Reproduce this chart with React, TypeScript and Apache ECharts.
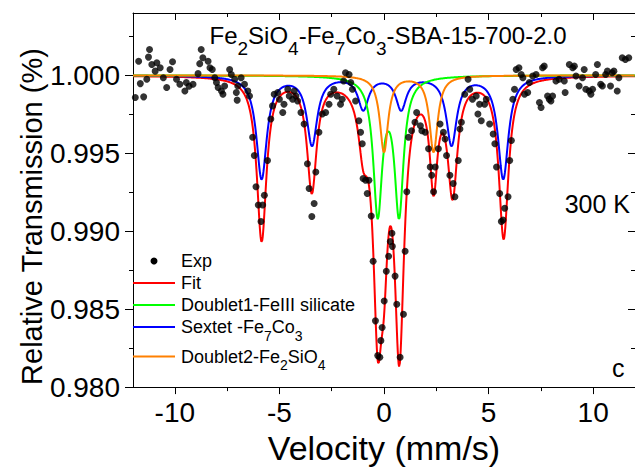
import React, { useEffect, useRef } from "react";
import * as echarts from "echarts";

const FONT = "'Liberation Sans', Arial, Helvetica, sans-serif";

// Axes
const xMin = -12;
const xMax = 12;
const yMin = 0.98;
const yMax = 1.004;
const xMajorTicks = [-10, -5, 0, 5, 10];
const xMinorTicks = [-7.5, -2.5, 2.5, 7.5];
const yMajorTicks = [0.98, 0.985, 0.99, 0.995, 1.0];
const yMinorTicks = [0.9825, 0.9875, 0.9925, 0.9975, 1.0025];

// Experimental points (velocity mm/s, relative transmission)
const expVelocity = [
  -11.89, -11.73, -11.65, -11.49, -11.34, -11.26, -11.21, -11.1, -10.94, -10.86,
  -10.7, -10.55, -10.39, -10.23, -10.11, -9.92, -9.76, -9.52, -9.45, -9.32,
  -9.13, -8.89, -8.81, -8.74, -8.66, -8.41, -8.32, -8.21, -8.09, -8.01,
  -7.93, -7.77, -7.7, -7.62, -7.38, -7.3, -7.14, -7.06, -7.02, -6.99,
  -6.83, -6.67, -6.51, -6.43, -6.28, -6.2, -6.12, -6.01, -5.88, -5.8,
  -5.72, -5.57, -5.41, -5.33, -5.25, -5.08, -5.0, -4.84, -4.78, -4.6,
  -4.53, -4.37, -4.29, -4.21, -4.13, -3.97, -3.82, -3.66, -3.58, -3.45,
  -3.34, -3.26, -3.11, -2.95, -2.79, -2.63, -2.55, -2.4, -2.24, -2.08,
  -2.0, -1.93, -1.84, -1.67, -1.59, -1.51, -1.36, -1.2, -1.12, -1.04,
  -1.0, -0.88, -0.72, -0.8, -0.61, -0.52, -0.41, -0.3, -0.2, -0.15,
  -0.09, 0.01, 0.11, 0.22, 0.3, 0.38, 0.4, 0.53, 0.61, 0.77,
  0.93, 1.01, 1.09, 1.17, 1.32, 1.48, 1.56, 1.74, 1.81, 1.97,
  2.13, 2.21, 2.28, 2.37, 2.45, 2.6, 2.68, 2.84, 2.92, 2.99,
  3.15, 3.31, 3.39, 3.55, 3.63, 3.7, 3.86, 4.02, 4.1, 4.23,
  4.41, 4.49, 4.57, 4.65, 4.81, 4.89, 5.05, 5.22, 5.3, 5.38,
  5.53, 5.61, 5.69, 5.77, 5.93, 6.01, 6.09, 6.16, 6.24, 6.32,
  6.45, 6.56, 6.64, 6.72, 6.87, 6.95, 7.11, 7.27, 7.43, 7.51,
  7.58, 7.66, 7.82, 7.9, 7.98, 8.06, 8.22, 8.37, 8.62, 8.66,
  8.86, 9.02, 9.1, 9.18, 9.33, 9.49, 9.57, 9.65, 9.81, 9.89,
  9.97, 10.12, 10.2, 10.36, 10.44, 10.6, 10.68, 10.83, 10.91, 10.99,
  11.15, 11.23, 11.39, 11.54, 11.7,
];
const expTransmission = [
  0.99858, 1.00091, 0.99947, 0.99862, 0.99975, 1.00117, 1.00166, 1.0007, 1.00027, 1.00081,
  1.00049, 0.99985, 0.99922, 1.00038, 1.00087, 0.99975, 0.99943, 0.999, 0.99954, 0.9993,
  0.99943, 1.00011, 1.00075, 1.00166, 1.00113, 1.00091, 1.00049, 1.00038, 0.99985, 0.99954,
  0.99922, 0.999, 0.99879, 0.99932, 1.00038, 1.00006, 0.99975, 0.9989, 0.99841, 0.99932,
  0.99985, 0.99943, 0.999, 0.99868, 0.99603, 0.99486, 0.99285, 0.99168, 0.99062, 0.99168,
  0.99231, 0.99454, 0.9972, 0.99804, 0.99879, 0.9989, 0.99847, 0.99762, 0.99815, 0.99911,
  0.99868, 0.99847, 0.999, 0.99868, 0.99836, 0.99762, 0.99688, 0.99433, 0.99274, 0.99094,
  0.99178, 0.9938, 0.99635, 0.99752, 0.99762, 0.99815, 0.99879, 0.99911, 0.99868, 0.99815,
  0.99847, 0.99964, 1.00017, 1.00006, 0.99954, 0.99911, 0.99836, 0.99709, 0.99635, 0.99561,
  0.99338, 0.99327, 0.99327, 0.99242, 0.99098, 0.98807, 0.98425, 0.98202, 0.98191, 0.98298,
  0.98382, 0.98552, 0.98743, 0.98839, 0.98934, 0.98987, 0.98903, 0.98712, 0.98531, 0.98191,
  0.98467, 0.98871, 0.99253, 0.99603, 0.99645, 0.99699, 0.99762, 0.99677, 0.99645, 0.99635,
  0.99529, 0.99412, 0.99359, 0.99253, 0.99412, 0.99529, 0.99688, 0.99635, 0.99592, 0.99486,
  0.99359, 0.99306, 0.99221, 0.99454, 0.99656, 0.99699, 0.99879, 0.99975, 0.99911, 0.99847,
  0.99868, 0.99752, 0.99815, 0.99709, 0.99815, 0.99847, 0.99688, 0.99624, 0.99561, 0.99412,
  0.99242, 0.99062, 0.99072, 0.99147, 0.99221, 0.99454, 0.99582, 0.99847, 0.99911, 1.00038,
  1.00049, 1.00006, 0.99985, 0.99879, 0.9989, 0.99954, 0.99996, 1.00006, 0.99826, 0.99794,
  1.00049, 1.00059, 0.99868, 0.99847, 0.99836, 0.99868, 0.99964, 0.99975, 0.99964, 0.9989,
  1.0007, 1.00049, 1.00059, 0.99996, 0.99932, 0.99985, 1.00038, 0.99911, 0.999, 0.99879,
  0.99911, 1.00006, 1.0007, 0.99943, 0.99932, 1.00006, 1.00027, 0.99932, 1.00017, 1.00027,
  0.999, 0.99985, 1.00113, 1.00102, 1.00113,
];

// Fitted sub-spectra: Lorentzian line parameters
const sextetCenters = [-5.85, -3.44, -0.99, 0.82, 3.23, 5.7];
const sextetDepths = [0.0066, 0.0044, 0.0021, 0.0021, 0.0044, 0.0066];
const sextetHwhm = [0.3, 0.3, 0.3, 0.3, 0.3, 0.3];

const doublet1Centers = [-0.3, 0.72];
const doublet1Depths = [0.0087, 0.0087];
const doublet1Hwhm = [0.26, 0.26];

const doublet2Centers = [0.0, 2.37];
const doublet2Depths = [0.0049, 0.0049];
const doublet2Hwhm = [0.24, 0.24];

// Total fit envelope lines
const fitCenters = [-5.85, -3.45, -0.99, -0.3, 0.0, 0.72, 0.82, 2.37, 3.28, 5.72];
const fitDepths = [0.0105, 0.0072, 0.0035, 0.01413, 0.007, 0.01413, 0.00306, 0.0064, 0.0072, 0.0103];
const fitHwhm = [0.28, 0.28, 0.28, 0.26, 0.22, 0.26, 0.28, 0.22, 0.28, 0.28];

const velocityStep = 0.02;

function lorentzCurve(centers: number[], depths: number[], hwhm: number[]) {
  const out: number[][] = [];
  const n = Math.round((xMax - xMin) / velocityStep);
  for (let i = 0; i <= n; i++) {
    const v = xMin + i * velocityStep;
    let t = 1;
    for (let k = 0; k < centers.length; k++) {
      const u = (v - centers[k]) / hwhm[k];
      t -= depths[k] / (1 + u * u);
    }
    out.push([v, t]);
  }
  return out;
}

const axisLine = { color: "#000", width: 1 };

function xAx(position: string, ticks: number[], len: number, inside: boolean, main: boolean) {
  return {
    type: "value",
    min: xMin,
    max: xMax,
    position,
    axisLine: { show: main, onZero: false, lineStyle: axisLine },
    axisTick: { show: true, inside, length: len, customValues: ticks, lineStyle: axisLine },
    axisLabel: main && position === "bottom"
      ? { show: true, customValues: xMajorTicks, margin: 11, fontSize: 28, color: "#000", fontFamily: FONT }
      : { show: false },
    splitLine: { show: false },
  } as any;
}

function yAx(position: string, ticks: number[], len: number, inside: boolean, main: boolean) {
  return {
    type: "value",
    min: yMin,
    max: yMax,
    position,
    axisLine: { show: main, onZero: false, lineStyle: axisLine },
    axisTick: { show: true, inside, length: len, customValues: ticks, lineStyle: axisLine },
    axisLabel: main && position === "left"
      ? {
          show: true,
          customValues: yMajorTicks,
          margin: 13,
          fontSize: 28,
          color: "#000",
          fontFamily: FONT,
          formatter: (v: number) => v.toFixed(3),
        }
      : { show: false },
    splitLine: { show: false },
  } as any;
}

const legendItems = [
  { kind: "line", color: "#FF0000", y: 283, text: "Fit", rich: false, sub: 0 },
  { kind: "line", color: "#00FF00", y: 305, text: "Doublet1-FeIII silicate", rich: false, sub: 0 },
  { kind: "line", color: "#0000FF", y: 327, text: "{m|Sextet -Fe}{s|7}{m|Co}{s|3}", rich: true, sub: 18 },
  { kind: "line", color: "#FF8000", y: 356.5, text: "{m|Doublet2-Fe}{s|2}{m|SiO}{s|4}", rich: true, sub: 16 },
];

export default function App() {
  const ref = useRef<HTMLDivElement>(null);
  useEffect(() => {
    const chart = echarts.init(ref.current!, null, { renderer: "svg" });

    const graphic: any[] = [
      {
        type: "text",
        x: 209.5,
        y: 35,
        style: {
          text: "{m|Fe}{s|2}{m|SiO}{s|4}{m|-Fe}{s|7}{m|Co}{s|3}{m|-SBA-15-700-2.0}",
          rich: {
            m: { fontSize: 24, fontFamily: FONT, fill: "#000" },
            s: { fontSize: 19, fontFamily: FONT, fill: "#000", padding: [27, 0, 0, 0] },
          },
          lineHeight: 70,
          fontSize: 24,
          fontFamily: FONT,
          fill: "#000",
          align: "left",
          verticalAlign: "middle",
        },
      },
      {
        type: "text",
        x: 630,
        y: 204,
        style: { text: "300 K", fontSize: 25, fontFamily: FONT, fill: "#000", align: "right", verticalAlign: "middle" },
      },
      {
        type: "text",
        x: 612,
        y: 367.5,
        style: { text: "c", fontSize: 25, fontFamily: FONT, fill: "#000", align: "left", verticalAlign: "middle" },
      },
      {
        type: "text",
        x: 31.5,
        y: 216.5,
        rotation: Math.PI / 2,
        style: {
          text: "Relative Transmission (%)",
          fontSize: 29,
          fontFamily: FONT,
          fill: "#000",
          align: "center",
          verticalAlign: "middle",
        },
      },
      { type: "circle", shape: { cx: 154, cy: 261, r: 3.5 }, style: { fill: "#000" }, z: 100 },
      {
        type: "text",
        x: 181,
        y: 260.5,
        style: { text: "Exp", fontSize: 18, fontFamily: FONT, fill: "#000", align: "left", verticalAlign: "middle" },
        z: 100,
      },
    ];
    legendItems.forEach((it) => {
      graphic.push({
        type: "line",
        shape: { x1: 133, y1: it.y, x2: 175, y2: it.y },
        style: { stroke: it.color, lineWidth: 2 },
        z: 100,
      });
      graphic.push({
        type: "text",
        x: 181,
        y: it.y,
        z: 100,
        style: it.rich
          ? {
              text: it.text,
              rich: {
                m: { fontSize: 18, fontFamily: FONT, fill: "#000" },
                s: { fontSize: 14, fontFamily: FONT, fill: "#000", padding: [it.sub, 0, 0, 0] },
              },
              lineHeight: 50,
              fontSize: 18,
              fontFamily: FONT,
              fill: "#000",
              align: "left",
              verticalAlign: "middle",
            }
          : { text: it.text, fontSize: 18, fontFamily: FONT, fill: "#000", align: "left", verticalAlign: "middle" },
      });
    });

    const lineSeries = (name: string, data: number[][], color: string, z: number) => ({
      name,
      type: "line",
      data,
      showSymbol: false,
      symbol: "none",
      lineStyle: { color, width: 2 },
      itemStyle: { color },
      z,
      clip: true,
    });

    chart.setOption({
      animation: false,
      backgroundColor: "#fff",
      grid: { left: 133, top: 13, width: 507, height: 378, containLabel: false },
      xAxis: [
        {
          ...xAx("bottom", xMajorTicks, 7, false, true),
          name: "Velocity (mm/s)",
          nameLocation: "middle",
          nameGap: 41,
          nameTextStyle: { fontSize: 34, color: "#000", fontFamily: FONT },
        },
        xAx("bottom", xMinorTicks, 4, false, false),
        xAx("top", xMajorTicks, 7, true, true),
        xAx("top", xMinorTicks, 4, true, false),
      ],
      yAxis: [
        yAx("left", yMajorTicks, 8, false, true),
        yAx("left", yMinorTicks, 4, false, false),
        yAx("right", yMajorTicks, 7, true, true),
        yAx("right", yMinorTicks, 4, true, false),
      ],
      series: [
        lineSeries("Fit", lorentzCurve(fitCenters, fitDepths, fitHwhm), "#FF0000", 2),
        lineSeries("Sextet -Fe7Co3", lorentzCurve(sextetCenters, sextetDepths, sextetHwhm), "#0000FF", 3),
        lineSeries("Doublet1-FeIII silicate", lorentzCurve(doublet1Centers, doublet1Depths, doublet1Hwhm), "#00FF00", 4),
        lineSeries("Doublet2-Fe2SiO4", lorentzCurve(doublet2Centers, doublet2Depths, doublet2Hwhm), "#FF8000", 5),
        {
          name: "Exp",
          type: "scatter",
          data: expVelocity.map((v, i) => [v, expTransmission[i]]),
          symbol: "circle",
          symbolSize: 7,
          itemStyle: { color: "#000" },
          z: 6,
        },
      ],
      graphic,
    });
    return () => chart.dispose();
  }, []);
  return (
    <div
      ref={ref}
      style={{ position: "absolute", left: 0, top: 0, width: 635, height: 470, background: "#fff" }}
    />
  );
}
